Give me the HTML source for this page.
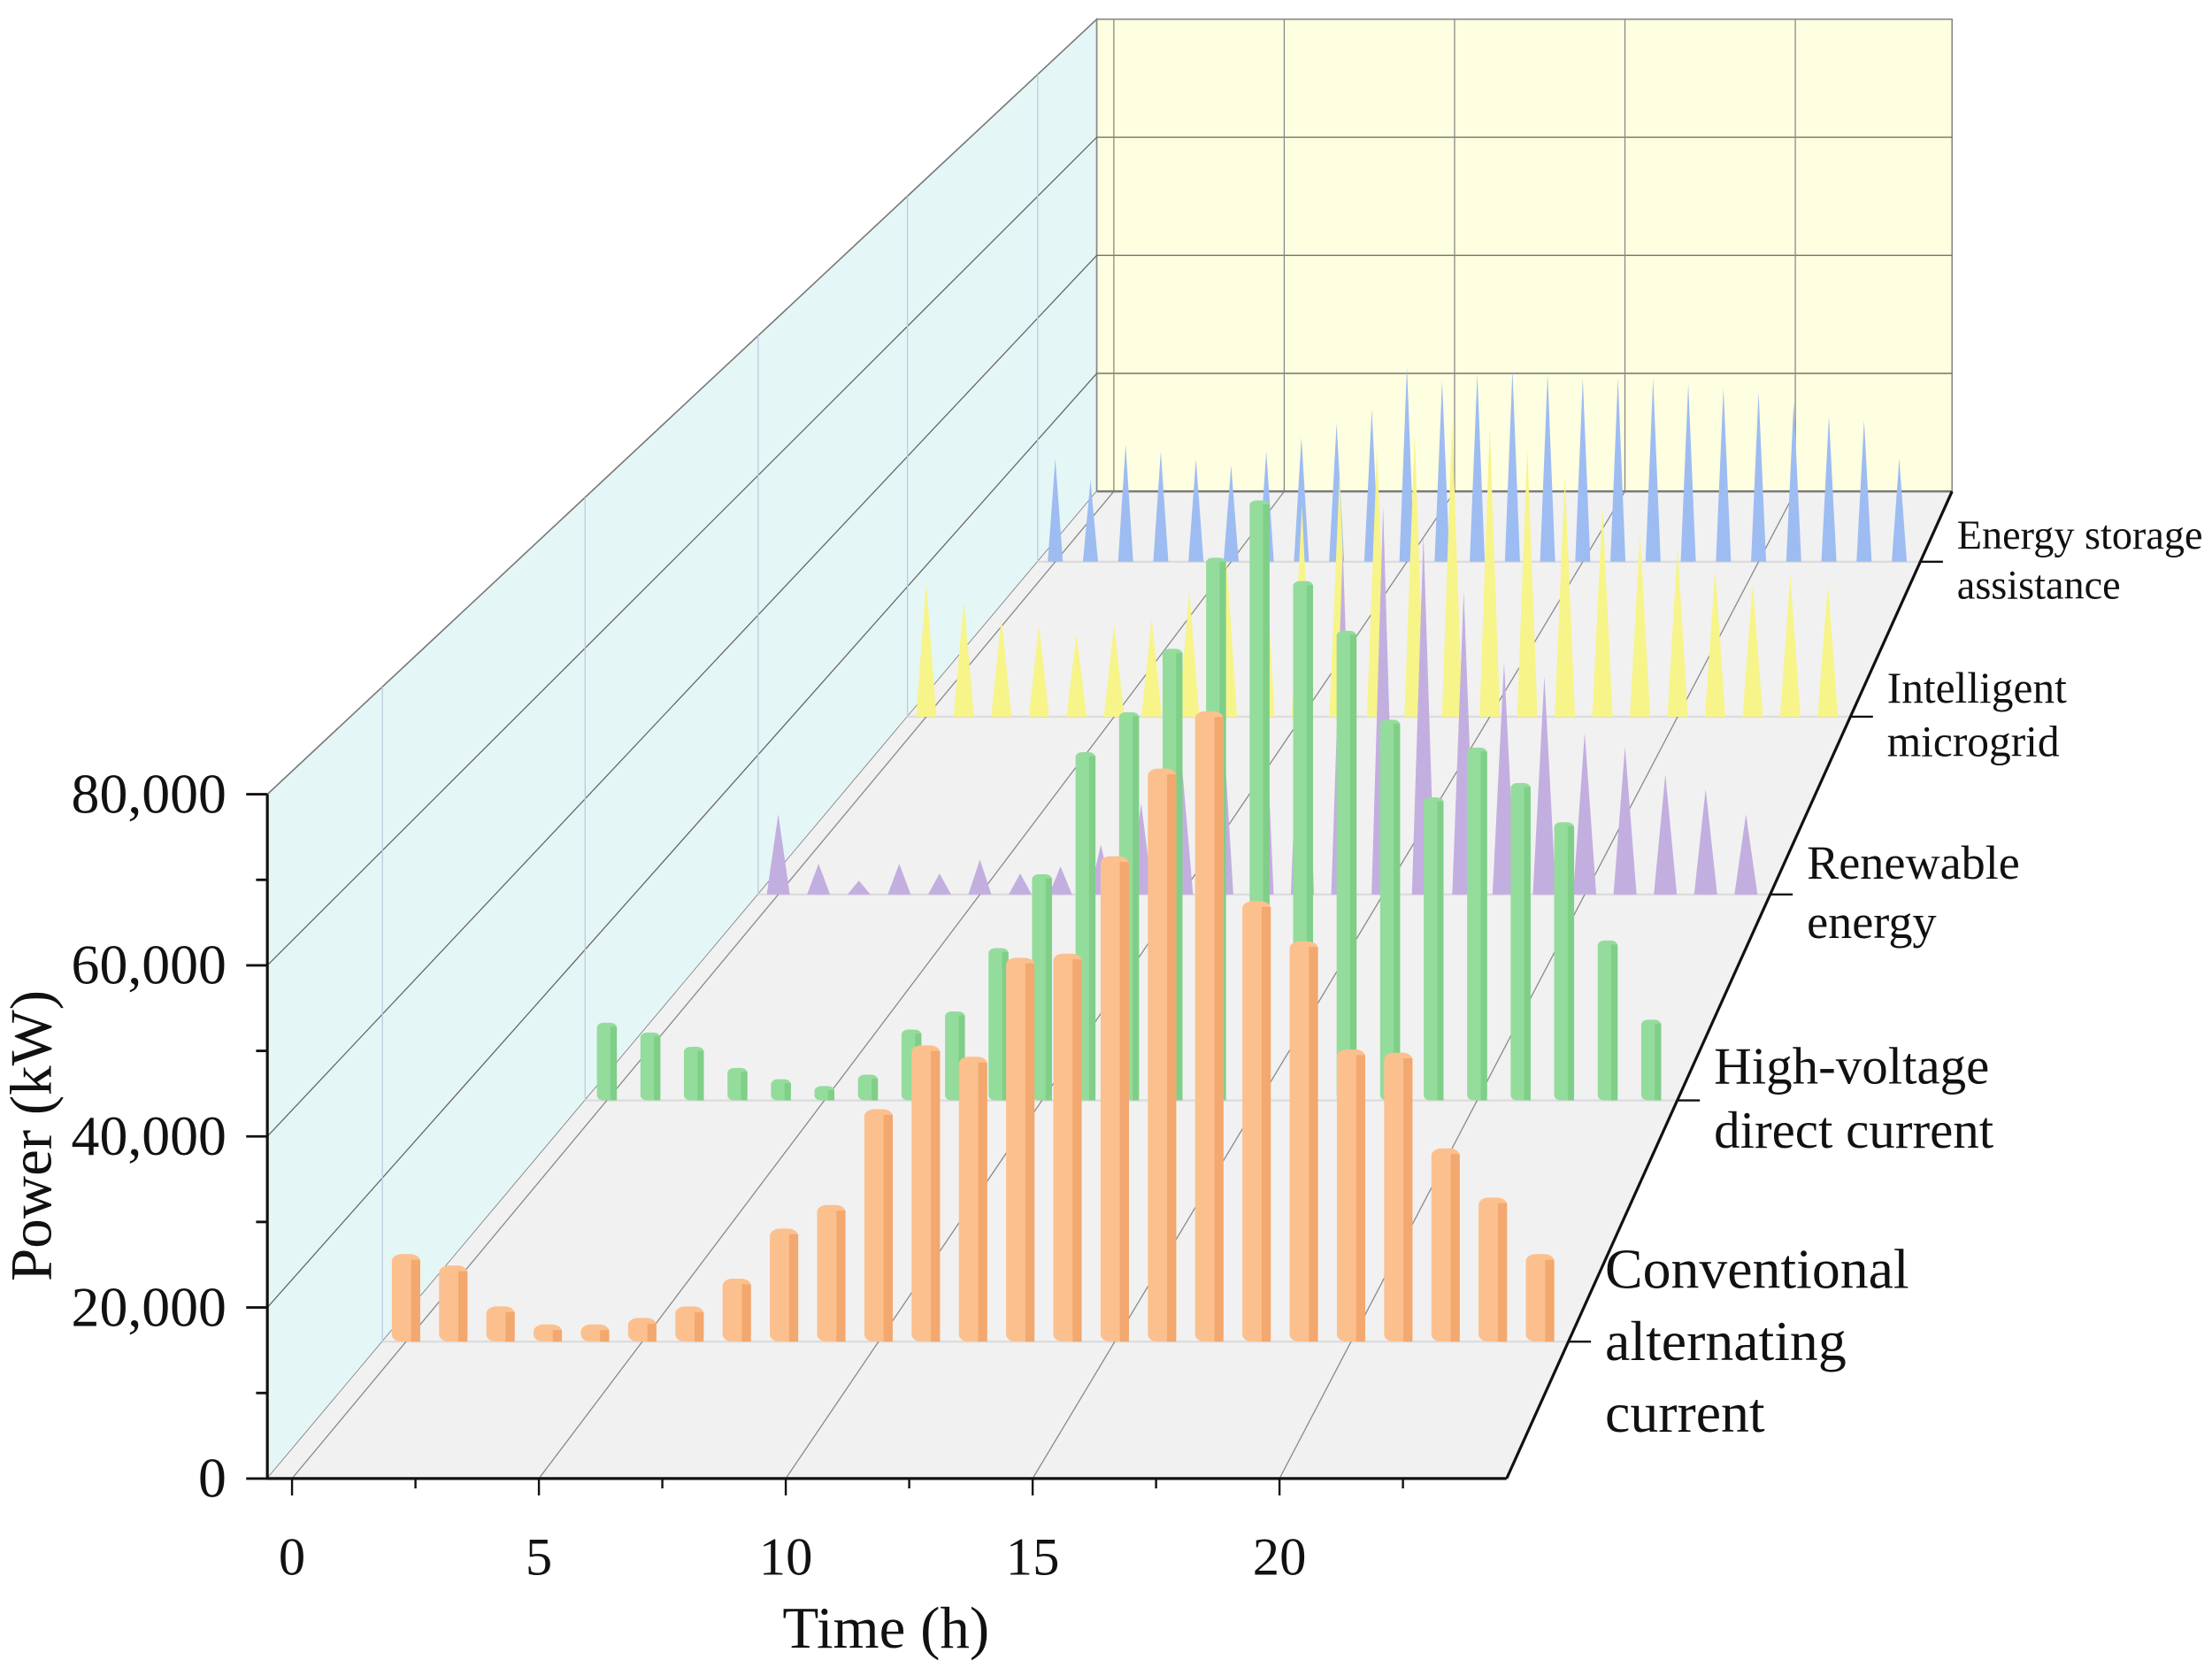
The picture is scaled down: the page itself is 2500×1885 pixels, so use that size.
<!DOCTYPE html>
<html><head><meta charset="utf-8"><style>
html,body{margin:0;padding:0;background:#fff}
svg{display:block}
text{font-family:"Liberation Serif",serif;fill:#111}
</style></head><body>
<svg id="chart" width="2500" height="1885" viewBox="0 0 1568 1182.3" xmlns="http://www.w3.org/2000/svg">
<g id="walls"></g>
<g id="grid"></g>
<g id="bars"></g>
<g id="axes"></g>
</svg>
<script>
const hours = [0,1,2,3,4,5,6,7,8,9,10,11,12,13,14,15,16,17,18,19,20,21,22,23,24];
const seriesNames = ["Conventional alternating current","High-voltage direct current","Renewable energy","Intelligent microgrid","Energy storage assistance"];
const conventionalAC = [10700,9300,4300,2100,2100,2900,4300,7700,13800,16700,28400,36200,34800,46900,47400,59300,70000,77000,53800,48900,35700,35300,23600,17600,10700];
const hvdc = [10300,9000,7100,4300,2800,1900,3400,9400,11800,20200,30000,46200,51500,59900,72000,79600,68900,62300,50500,40200,46800,42100,36900,21200,10700];
const renewable = [11500,4400,2000,4400,3000,5000,3000,4000,7100,13100,19200,27300,37400,43400,49500,55500,51500,43400,33300,31300,23200,21200,17200,15100,11500];
const microgrid = [20600,17800,15200,14100,12600,14100,15200,19500,23800,28100,32500,36800,41100,43300,45500,44400,41100,36800,32500,28100,26000,22700,20600,21700,20600];
const storage = [16900,13400,19200,18100,16900,15800,18100,20400,22700,25000,32000,29700,30800,31500,30800,30100,30100,30100,29200,28500,27800,26200,23900,23200,16900];
const yTicks = [0,20000,40000,60000,80000];
const yTickLabels = ["0","20,000","40,000","60,000","80,000"];
const xTicks = [0,5,10,15,20];

const NS="http://www.w3.org/2000/svg";
const VX=2087, VY=-1210, Y0=1048, K=0.449, HS=485/80000;
function sc(z){return 1/(1+K*z);}
function fx(t){return 207+35*t;}
function P(t,z,v){const s=sc(z);return [VX+(fx(t)-VX)*s, VY+(Y0-VY)*s - v*HS*s];}
function mk(parent,tag,attrs){const e=document.createElementNS(NS,tag);for(const k in attrs)e.setAttribute(k,attrs[k]);document.getElementById(parent).appendChild(e);return e;}
function pts(a){return a.map(p=>p[0].toFixed(2)+","+p[1].toFixed(2)).join(" ");}
const T0=-0.5,T1=24.6,ZMAX=1;

let e;
e=mk("walls","polygon",{points:pts([P(T0,0,0),P(T0,0,80000),P(T0,ZMAX,80000),P(T0,ZMAX,0)]),fill:"#e5f6f6",stroke:"#777","stroke-width":1});


e=mk("walls","polygon",{points:pts([P(T0,ZMAX,0),P(T0,ZMAX,80000),P(T1,ZMAX,80000),P(T1,ZMAX,0)]),fill:"#fefee0",stroke:"#888","stroke-width":1});


e=mk("walls","polygon",{points:pts([P(T0,0,0),P(T1,0,0),P(T1,ZMAX,0),P(T0,ZMAX,0)]),fill:"#f1f1f1",stroke:"none"});



const depths=[0.1,0.3,0.5,0.7,0.9];
yTicks.slice(1,4).forEach(v=>{
  let a=P(T0,0,v),b=P(T0,ZMAX,v),c=P(T1,ZMAX,v);
  e=mk("grid","polyline",{points:pts([a,b,c]),fill:"none",stroke:"#666","stroke-width":0.8});
  
  
});
depths.forEach(z=>{
  let a=P(T0,z,0),b=P(T0,z,80000);
  e=mk("grid","line",{x1:a[0],y1:a[1],x2:b[0],y2:b[1],stroke:"#bcd","stroke-width":0.8});
  
  
  let c=P(T0,z,0),d=P(T1,z,0);
  e=mk("grid","line",{x1:c[0],y1:c[1],x2:d[0],y2:d[1],stroke:"#dcdcdc","stroke-width":1.5});
  
  
});
xTicks.forEach(t=>{
  let a=P(t,0,0),b=P(t,ZMAX,0),c=P(t,ZMAX,80000);
  e=mk("grid","polyline",{points:pts([a,b,c]),fill:"none",stroke:"#888","stroke-width":0.8});
  
  
});
{let a=P(T0,ZMAX,0),b=P(T1,ZMAX,0);e=mk("grid","line",{x1:a[0],y1:a[1],x2:b[0],y2:b[1],stroke:"#777","stroke-width":1.5});

}

const series=[
 {vals:storage,z:0.9,type:"cone",fill:"#9dbcf2",w:15,name:"storage"},
 {vals:microgrid,z:0.7,type:"cone",fill:"#f7f48a",w:19,name:"microgrid"},
 {vals:renewable,z:0.5,type:"cone",fill:"#c3aee0",w:20,name:"renewable"},
 {vals:hvdc,z:0.3,type:"bar",fill:"#94dc9c",side:"#7fcf88",w:16,name:"hvdc"},
 {vals:conventionalAC,z:0.1,type:"bar",fill:"#fcc08e",side:"#f2a86e",w:21,name:"conventional-ac"}
];
series.forEach(S=>{
  const s=sc(S.z), w=S.w*s;
  hours.forEach((t,i)=>{
    const b=P(t,S.z,0), top=P(t,S.z,S.vals[i]);
    const h=b[1]-top[1];
    if(S.type==="cone"){
      e=mk("bars","polygon",{points:pts([[b[0]-w/2,b[1]],[b[0],top[1]],[b[0]+w/2,b[1]]]),fill:S.fill});
      
      
    } else {
      e=mk("bars","rect",{x:b[0]-w/2,y:top[1],width:w,height:h,rx:w*0.35,ry:w*0.25,fill:S.fill});
      
      
      e=mk("bars","rect",{x:b[0]+w*0.18,y:top[1]+w*0.2,width:w*0.32,height:Math.max(0,h-w*0.2),fill:S.side});
      
      
    }
  });
});

function line(a,b,name,sw){e=mk("axes","line",{x1:a[0],y1:a[1],x2:b[0],y2:b[1],stroke:"#111","stroke-width":sw||2});

}
line(P(T0,0,0),P(T0,0,80000),"y-axis-line");
line(P(T0,0,0),P(T1,0,0),"x-axis-line");
line(P(T1,0,0),P(T1,ZMAX,0),"z-axis-line");
for(let v=0;v<=80000;v+=10000){
  const a=P(T0,0,v), major=v%20000===0;
  line(a,[a[0]-(major?15:8),a[1]],"y-tick",1.8);
}
yTicks.forEach((v,i)=>{
  const a=P(T0,0,v);
  e=mk("axes","text",{x:a[0]-29,y:a[1]+13,"text-anchor":"end","font-size":40});
  e.textContent=yTickLabels[i];
  
  
});
for(let t=0;t<=24;t+=2.5){
  const a=P(t,0,0), major=t%5===0;
  line(a,[a[0],a[1]+(major?12:7)],"x-tick",1.5);
}
xTicks.forEach(t=>{
  const a=P(t,0,0);
  e=mk("axes","text",{x:a[0],y:a[1]+68,"text-anchor":"middle","font-size":38});
  e.textContent=String(t);
  
  
});
e=mk("axes","text",{x:628,y:1168,"text-anchor":"middle","font-size":42});
e.textContent="Time (h)";


e=mk("axes","text",{x:0,y:0,"text-anchor":"middle","font-size":42,transform:"translate(36,805) rotate(-90)"});
e.textContent="Power (kW)";


const labelLines=[["Conventional","alternating","current"],["High-voltage","direct current"],["Renewable","energy"],["Intelligent","microgrid"],["Energy storage","assistance"]];
const labelSizes=[40,37,34,31,29];
depths.forEach((z,i)=>{
  const a=P(T1,z,0);
  line(a,[a[0]+16,a[1]],"z-tick",1.5);
  const L=labelLines[i], fs=labelSizes[i], lh=fs*1.5;
  const y0=a[1]-(L.length===3?lh*0.9:lh*0.45)+fs*0.35;
  L.forEach((txt,j)=>{
    e=mk("axes","text",{x:a[0]+26,y:(L.length===3? a[1]-38+j*51 : y0+j*lh*0.82),"font-size":fs});
    e.textContent=txt;
    
    
  });
});
</script>
</body></html>
